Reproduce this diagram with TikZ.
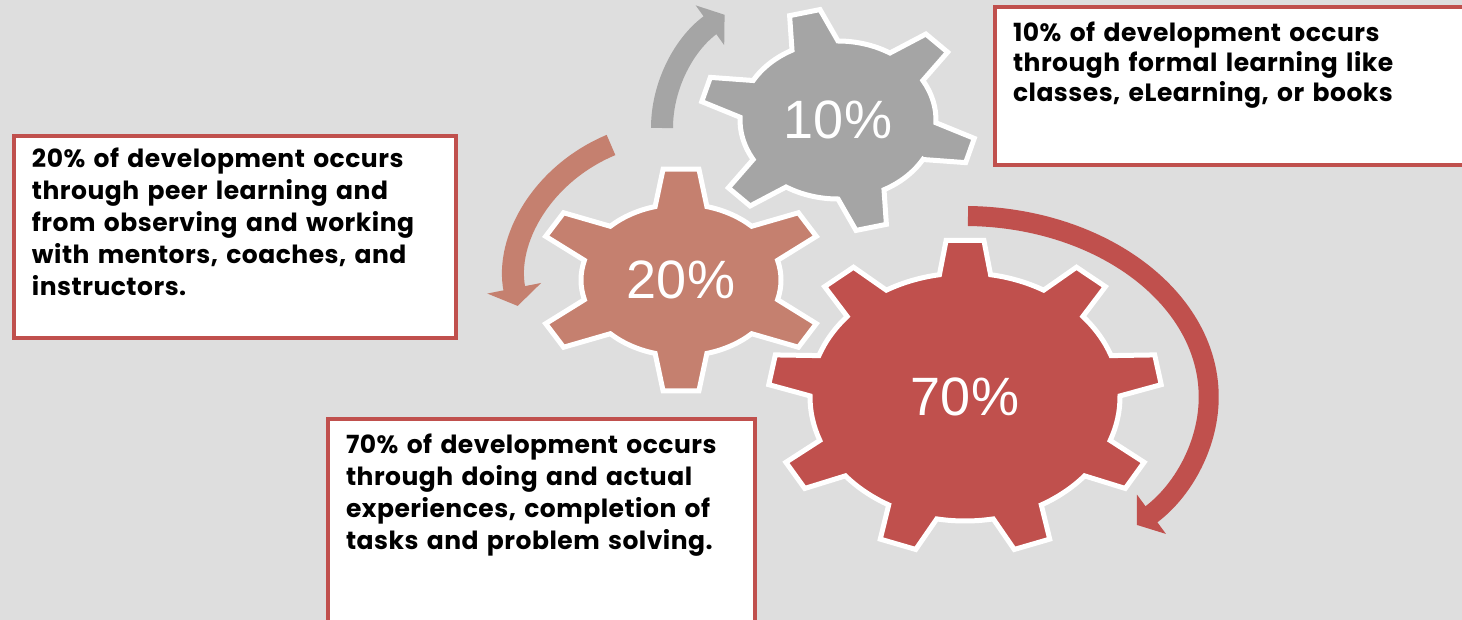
\documentclass[tikz,border=0pt]{standalone}
\usepackage{fontspec}
\usepackage{tikz}
\usetikzlibrary{positioning}
\usetikzlibrary{calc}
\usetikzlibrary{arrows.meta}
\newfontfamily\boxfont{Poppins}[LetterSpace=2]
\newfontfamily\cogfont{Liberation Sans}
\definecolor{bgray}{HTML}{DEDEDE}
\definecolor{cogten}{HTML}{A5A5A5}
\definecolor{cogtwenty}{HTML}{C5806F}
\definecolor{cogseventy}{HTML}{C0504D}
\tikzstyle{cog} = [draw=white, line width=2.5pt, line join=miter]
\tikzstyle{cogtext} = [font=\cogfont\fontsize{27}{30}\selectfont, text=white, inner sep=0pt]
\tikzstyle{infobox} = [draw=cogseventy, line width=2pt, fill=white, anchor=north west, outer sep=0pt, align=left, inner xsep=9pt, inner ysep=0pt]
\tikzstyle{spin} = [line width=11pt]

% gear outline: teeth, first tooth angle, root radius, tip radius, half root, half tip
\newcommand{\cogpath}[6]{({#2-#5}:#3)
  \foreach \k in {1,...,#1}{
    -- ({#2+(\k-1)*360/#1-#6}:#4) -- ({#2+(\k-1)*360/#1+#6}:#4)
    -- ({#2+(\k-1)*360/#1+#5}:#3)
    arc[start angle={#2+(\k-1)*360/#1+#5}, end angle={#2+\k*360/#1-#5}, radius=#3]
  } -- cycle}

\begin{document}
\begin{tikzpicture}[x=0.5pt,y=0.5pt]
    \useasboundingbox (0,0) rectangle (1462,-620);
    \clip (0,0) rectangle (1462,-620);
    \fill[bgray] (0,0) rectangle (1462,-620);

    \coordinate (c10) at (838,-120);
    \coordinate (c20) at (681,-280);
    \coordinate (c70) at (965,-397);

    % gears
    \begin{scope}[shift={(c10)}, xscale=98, yscale=79]
        \path[cog, fill=cogten] \cogpath{6}{-16}{1}{1.41}{14}{6.5};
    \end{scope}
    \begin{scope}[shift={(c20)}, xscale=100, yscale=76]
        \path[cog, fill=cogtwenty] \cogpath{6}{30}{1}{1.47}{15}{7};
    \end{scope}
    \begin{scope}[shift={(c70)}, xscale=155, yscale=124]
        \path[cog, fill=cogseventy] \cogpath{9}{10}{1}{1.27}{9.5}{5.5};
    \end{scope}

    \node [cogtext] (g10) at (c10) {10\%};
    \node [cogtext] (g20) at (c20) {20\%};
    \node [cogtext] (g70) at (c70) {70\%};

    % turning arrows
    \coordinate (s10) at (662,-128);
    \coordinate (s20) at (611,-145);
    \coordinate (s70) at (968,-216);
    \draw [spin, cogten, -{Triangle[width=24pt,length=9pt]}] (s10) arc[start angle=180, end angle=131, x radius=182, y radius=150];
    \draw [spin, cogtwenty, -{Triangle[width=27pt,length=9pt]}] (s20) arc[start angle=115, end angle=190, x radius=166, y radius=149];
    \draw [spin, line width=10pt, cogseventy, -{Triangle[width=24pt,length=9pt]}] (s70) arc[start angle=89, end angle=-45, x radius=245, y radius=181];

    % text boxes
    \node [infobox, text width=224.5pt, text height=17.5pt, text depth=61.5pt, font=\boxfont\bfseries\fontsize{12.5}{15}\selectfont] (box10) at (995,-7)
        {10\% of development occurs\\ through formal learning like\\ classes, eLearning, or books};
    \node [infobox, text width=203pt, text height=16pt, text depth=85pt, font=\boxfont\bfseries\fontsize{12.5}{16}\selectfont] (box20) at (14,-136)
        {20\% of development occurs\\ through peer learning and\\ from observing and working\\ with mentors, coaches, and\\ instructors.};
    \node [infobox, text width=195.5pt, text height=17pt, text depth=93.5pt, font=\boxfont\bfseries\fontsize{12.5}{16}\selectfont] (box70) at (328,-419)
        {70\% of development occurs\\ through doing and actual\\ experiences, completion of\\ tasks and problem solving.};
\end{tikzpicture}
\end{document}
